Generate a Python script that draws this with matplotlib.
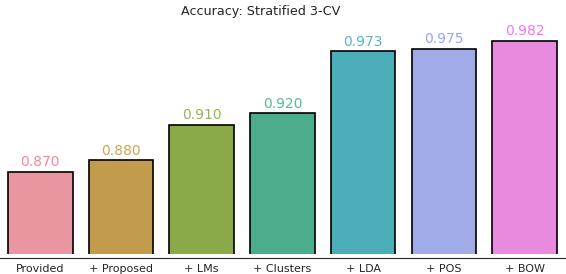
import matplotlib
matplotlib.use("Agg")
import matplotlib.pyplot as plt
import seaborn as sns
import numpy as np

categories = ["Provided", "+ Proposed", "+ LMs", "+ Clusters", "+ LDA", "+ POS", "+ BOW"]
accuracy = [0.870, 0.880, 0.910, 0.920, 0.973, 0.975, 0.982]
title = "Accuracy: Stratified 3-CV"
bar_colors = ["#E996A1", "#C29B4C", "#8AAA4A", "#4BAD8C", "#4BADB8", "#A0ABE8", "#E88ADE"]

sns.set_style("white")
plt.rcParams['font.family'] = ['DejaVu Sans']

pal = sns.color_palette("husl", len(categories))
text_colors = [(*c, 0.85) for c in pal]

fig = plt.figure(figsize=(5.66, 2.74), dpi=100)
ax = fig.add_axes([0.0, 0.073, 0.998, 0.855])
sns.despine(ax=ax, left=True, offset=3)
ax.spines["bottom"].set_color(".15")
x = np.arange(len(categories))
ax.bar(x, accuracy, width=0.8, color=bar_colors, edgecolor="black", linewidth=1.2)
ax.set_xlim(-0.5, len(categories) - 0.5)
ax.set_ylim(0.8, 1.0)
for xi, v, c in zip(x, accuracy, text_colors):
    ax.annotate(f"{v:.3f}", (xi, v), xytext=(0, 2), textcoords="offset points",
                ha="center", va="bottom", color=c, fontsize=10)
ax.set_xticks(x)
ax.set_xticklabels(categories, fontsize=8, color=".15")
ax.tick_params(axis="x", length=0, pad=4)
ax.set_yticks([])
ax.set_title(title, fontsize=9.2, color=".15", pad=3.5, x=0.462)
fig.savefig("out.png", dpi=100)
